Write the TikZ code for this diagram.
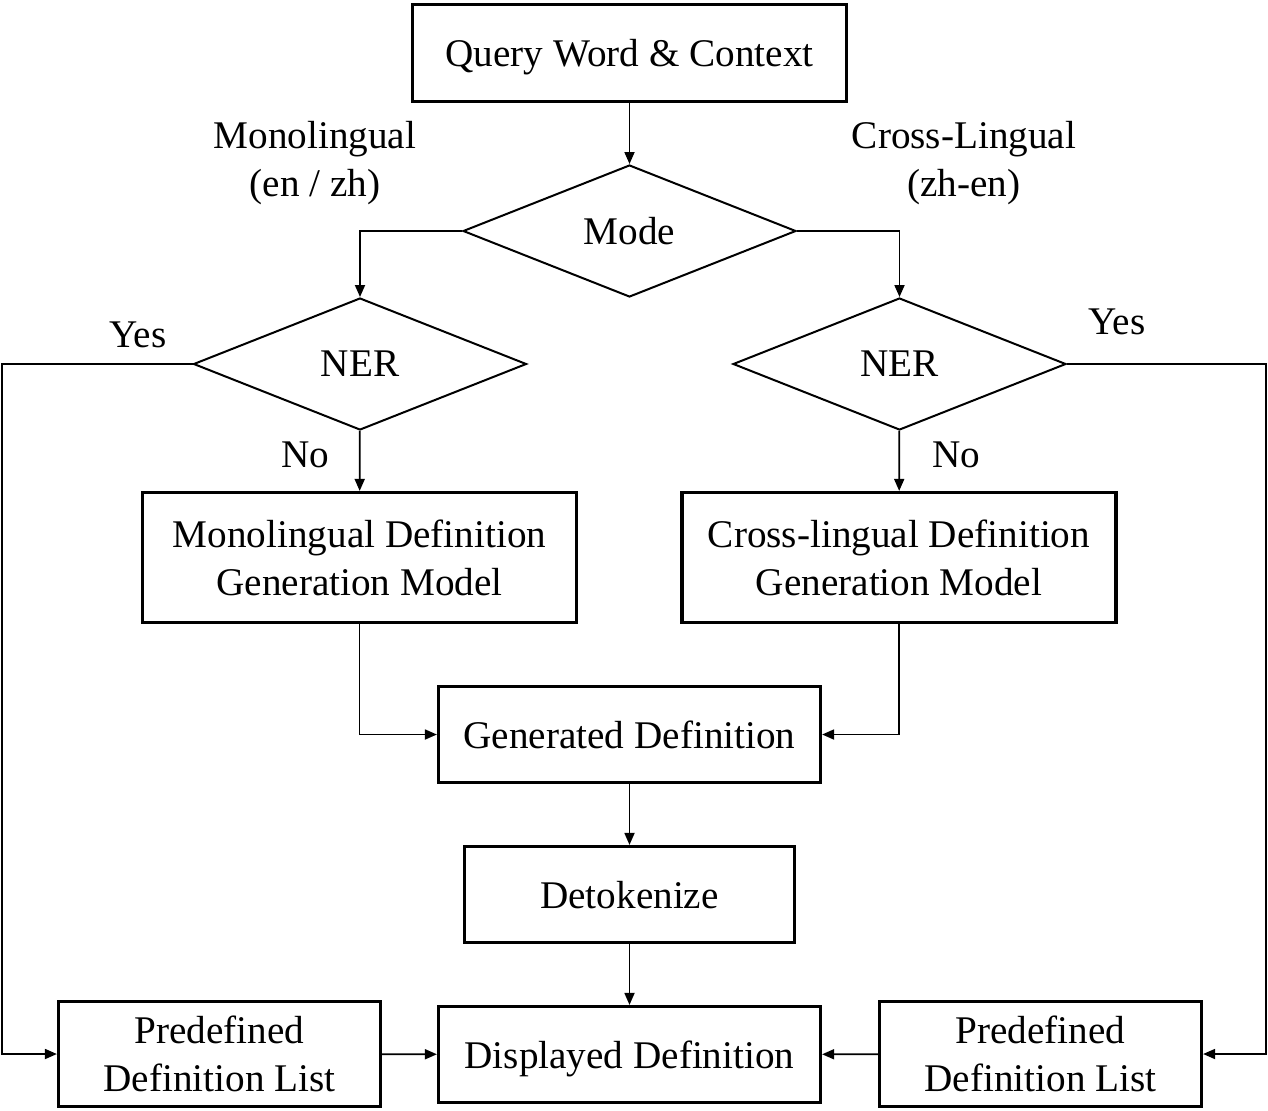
\documentclass[tikz,border=0pt]{standalone}
\usepackage{fontspec}
\setmainfont{Liberation Serif}
\usetikzlibrary{arrows.meta,shapes.geometric}
\begin{document}
\begin{tikzpicture}[x=0.5pt,y=-0.5pt,
    every node/.style={font=\fontsize{19.6}{24}\selectfont},
    stagebox/.style={draw,line width=1.6pt,inner sep=0pt,align=center,text depth=0pt},
    decision/.style={draw,diamond,line width=1pt,inner sep=0pt,minimum width=166.5pt,minimum height=66pt},
    arr/.style={-{Triangle[length=6pt,width=5pt]},line width=0.9pt}]
    \useasboundingbox (0,0) rectangle (1268,1110);

    \node[stagebox,minimum width=217pt,minimum height=48.5pt] (query) at (629.5,53) {Query Word \& Context};
    \node[decision] (mode) at (629.5,231) {Mode};
    \node[decision] (nerL) at (360,364) {NER};
    \node[decision] (nerR) at (899.5,364) {NER};
    \node[stagebox,minimum width=217pt,minimum height=65pt] (mono) at (359.5,557.5) {Monolingual Definition\\Generation Model};
    \node[stagebox,minimum width=217pt,minimum height=65pt] (cross) at (899,557.5) {Cross-lingual Definition\\Generation Model};
    \node[stagebox,minimum width=191pt,minimum height=48pt] (gen) at (629.5,734.5) {Generated Definition};
    \node[stagebox,minimum width=165pt,minimum height=48pt] (detok) at (629.5,894.5) {Detokenize};
    \node[stagebox,minimum width=191pt,minimum height=48pt] (disp) at (629.5,1054.5) {Displayed Definition};
    \node[stagebox,minimum width=161pt,minimum height=52.5pt] (predefL) at (219.5,1054) {Predefined\\Definition List};
    \node[stagebox,minimum width=161pt,minimum height=52.5pt] (predefR) at (1040.5,1054) {Predefined\\Definition List};

    % branch labels
    \node[align=center] (monoLbl) at (315,163) {Monolingual\\(en / zh)};
    \node[align=center] (crossLbl) at (964,163) {Cross-Lingual\\(zh-en)};
    \node (yesL) at (138,335) {Yes};
    \node (yesR) at (1117,322) {Yes};
    \node (noL) at (305,455) {No};
    \node (noR) at (956,455) {No};

    \coordinate (railL) at (2,364);
    \coordinate (railR) at (1266,364);

    \draw[arr] (query) -- (mode);
    \draw[arr] (mode.west) -| (nerL.north);
    \draw[arr] (mode.east) -| (nerR.north);
    \draw[arr] (nerL) -- (mono);
    \draw[arr] (nerR) -- (cross);
    \draw[arr] (nerL.west) -- (railL) |- (predefL.west);
    \draw[arr] (nerR.east) -- (railR) |- (predefR.east);
    \draw[arr] (mono.south) |- (gen.west);
    \draw[arr] (cross.south) |- (gen.east);
    \draw[arr] (gen) -- (detok);
    \draw[arr] (detok) -- (disp);
    \draw[arr] (predefL) -- (disp);
    \draw[arr] (predefR) -- (disp);
\end{tikzpicture}
\end{document}
